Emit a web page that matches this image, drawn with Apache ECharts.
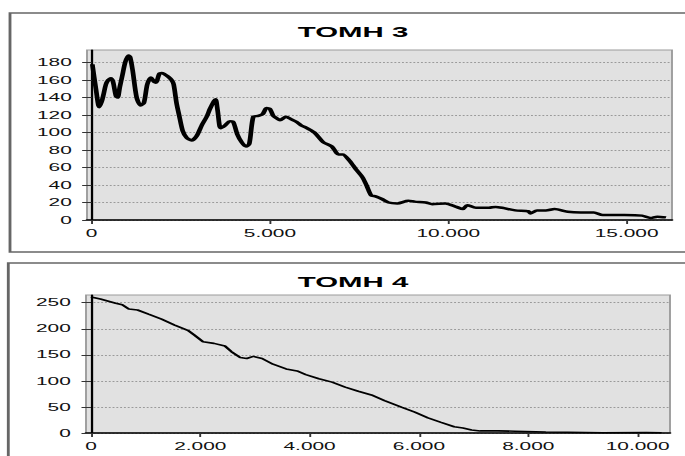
<!DOCTYPE html>
<html><head><meta charset="utf-8">
<script src="https://cdn.jsdelivr.net/npm/echarts@6/dist/echarts.min.js"></script>
<style>
html,body{margin:0;padding:0;background:#fff;overflow:hidden;width:685px;height:456px}
#chart{position:absolute;left:0;top:0;width:361px;height:456px;transform:scaleX(1.8975);transform-origin:0 0}
</style>
</head><body><div id="chart"></div>
<script>
// ---- data ----
const title3 = 'TOMH 3';
const title4 = 'TOMH 4';
const xTicks3 = [0, 5000, 10000, 15000];
const yTicks3 = [0, 20, 40, 60, 80, 100, 120, 140, 160, 180];
const xTicks4 = [0, 2000, 4000, 6000, 8000, 10000];
const yTicks4 = [0, 50, 100, 150, 200, 250];

const xs3 = [20,120,213,280,325,400,466,540,600,680,730,790,860,940,1030,1080,1150,1262,1374,1467,1560,1663,1750,1803,1897,1960,2028,2140,2240,2300,2383,2457,2552,2664,2804,2944,3085,3225,3317,3430,3477,3533,3617,3738,3878,3971,4083,4205,4327,4420,4533,4672,4796,4908,5000,5093,5200,5280,5450,5600,5750,5878,6000,6245,6490,6735,6920,7040,7225,7410,7590,7715,7840,7960,8140,8326,8570,8880,9060,9370,9550,9920,10225,10410,10530,10777,11140,11330,11510,11880,12245,12310,12490,12735,12980,13350,13715,14080,14330,14940,15430,15675,15860,16105];
const ys3 = [178,150,129,135,142,155,160,162,158,142,140,152,165,180,188,186,171,140,131,134,155,163,158,157,167,168,167,164,160,155,133,119,102,94,91,96,108,118,127,136,138,125,105,108,113,112,98,89,84,87,118,119,121,128,127,119,116,114,118,115,112,108,106,100,89,84,75,75,68,58,49,39,28,27,24,20,19,22,21,20,18,19,15,12.5,17,14,14,15,14,11,10,7.5,11,11,12.5,9.5,8.7,8.7,5.7,5.7,5,2.3,3.8,3];

const xs4 = [0,172,452,572,692,852,1052,1291,1531,1771,1890,2050,2250,2450,2570,2730,2850,2970,3130,3330,3570,3770,3930,4170,4410,4650,4890,5130,5370,5690,5924,6165,6404,6645,6805,6963,7120,7442,7760,8320,8720,9360,10160,10440];
const ys4 = [261,257,249,246,238,236,228,218.5,207,197,188,175,172,167,156,145,143,147,143,132,123,119,112,104,97.6,88,80,73,62,49,40,29,20.5,12,9.6,5.8,4,4,3.5,2,1.5,0.5,1,0.5];

// ---- chart ----
const S = 1.8975;           // horizontal stretch of the reference
const W = 361;
const fmt = v => String(v).replace(/\B(?=(\d{3})+(?!\d))/g, '.');
const font = 'Liberation Sans';

const chart = echarts.init(document.getElementById('chart'), null, {renderer: 'svg'});

function xAxisCfg(idx, min, max, ticks) {
  return {
    gridIndex: idx, type: 'value', min: min, max: max,
    axisLine: {show: true, onZero: false, lineStyle: {color: '#000', width: 1.5}},
    axisTick: {show: true, length: 4, customValues: ticks, lineStyle: {color: '#333', width: 1}},
    axisLabel: {customValues: ticks, formatter: fmt, margin: 8, fontFamily: font, fontSize: 11, color: '#111'},
    splitLine: {show: false}
  };
}
function yAxisCfg(idx, max, interval, ticks) {
  return {
    gridIndex: idx, type: 'value', min: 0, max: max, interval: interval,
    axisLine: {show: true, lineStyle: {color: '#000', width: 1.2}},
    axisTick: {show: true, length: 5, customValues: ticks, lineStyle: {color: '#333', width: 1}},
    axisLabel: {customValues: ticks, margin: 8, fontFamily: font, fontSize: 11, color: '#111'},
    splitLine: {show: true, lineStyle: {color: '#9a9a9a', type: 'dotted', width: 1}}
  };
}

chart.setOption({
  animation: false,
  backgroundColor: '#fff',
  grid: [
    {left: 87 / S, right: W - 672 / S, top: 50, bottom: 456 - 220, show: true,
     backgroundColor: '#e1e1e1', borderColor: '#9c9c9c', borderWidth: 1},
    {left: 86 / S, right: W - 670 / S, top: 295, bottom: 456 - 433, show: true,
     backgroundColor: '#e1e1e1', borderColor: '#9c9c9c', borderWidth: 1}
  ],
  xAxis: [xAxisCfg(0, -130, 16273, xTicks3), xAxisCfg(1, -91, 10593, xTicks4)],
  yAxis: [yAxisCfg(0, 194.3, 20, yTicks3), yAxisCfg(1, 264.8, 50, yTicks4)],
  series: [
    {type: 'line', xAxisIndex: 0, yAxisIndex: 0, showSymbol: false, smooth: 0.25,
     data: xs3.map((x, i) => [x, ys3[i]]),
     lineStyle: {color: '#000', width: 2.5}},
    {type: 'line', xAxisIndex: 1, yAxisIndex: 1, showSymbol: false,
     data: xs4.map((x, i) => [x, ys4[i]]),
     lineStyle: {color: '#000', width: 1.6}}
  ],
  graphic: [
    {type: 'rect', shape: {x: 10 / S, y: 13, width: 700 / S, height: 239},
     style: {fill: 'none', stroke: '#666', lineWidth: 1.5}, silent: true},
    {type: 'rect', shape: {x: 8.3 / S, y: 263, width: 700 / S, height: 260},
     style: {fill: 'none', stroke: '#666', lineWidth: 1.5}, silent: true},
    {type: 'text', x: 353 / S, y: 32,
     style: {text: title3, font: 'bold 15.5px "Liberation Sans", Arial', fill: '#000', align: 'center', verticalAlign: 'middle'}},
    {type: 'text', x: 353 / S, y: 282,
     style: {text: title4, font: 'bold 15.5px "Liberation Sans", Arial', fill: '#000', align: 'center', verticalAlign: 'middle'}}
  ]
});
</script>
</body></html>
